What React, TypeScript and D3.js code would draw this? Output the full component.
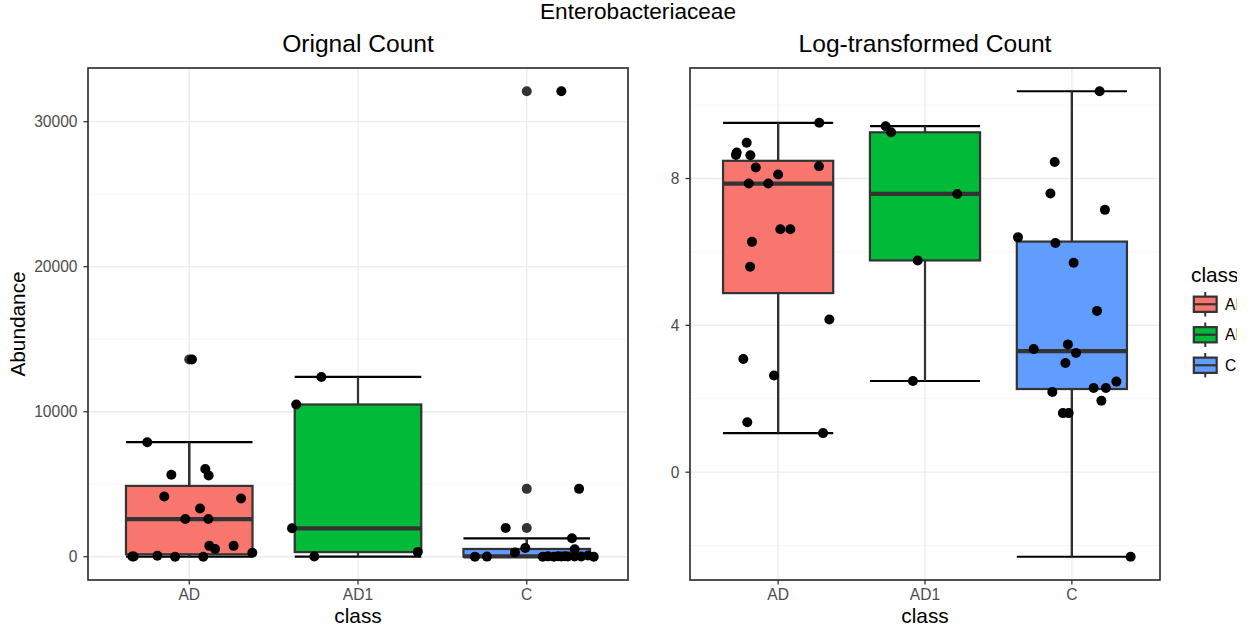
import * as d3 from 'd3'

// class order and fill colours (ggplot defaults)
const categories = ['AD', 'AD1', 'C']
const fills = ['#F8766D', '#00BA38', '#619CFF']

// raw abundance per class
const adValues = [13600, 7900, 6050, 5655, 5607, 4159, 4021, 3331, 2600, 2600, 750, 750, 531, 270, 64, 21.8, 13.9, 3.9, 2.9]
const ad1Values = [12400, 10500, 1960, 12, 320]
const cValues = [32100, 4680, 1980, 1270, 600, 515, 300, 81, 28.6, 32.5, 25.7, 19.6, 8.9, 9.9, 9.9, 11.8, 7.0, 5.0, 5.0, 0.1]

// jitter offsets (fraction of the category step) for each panel
const adJitterOrig = [0.016, -0.249, 0.095, -0.106, 0.115, -0.148, 0.307, 0.064, -0.023, 0.113, 0.119, 0.263, 0.153, 0.374, -0.189, -0.337, -0.329, -0.084, 0.083]
const adJitterLog = [0.28, -0.214, -0.282, -0.287, -0.189, 0.278, -0.152, 0.0, -0.2, -0.067, 0.015, 0.083, -0.178, -0.191, 0.349, -0.237, -0.028, -0.21, 0.306]
const ad1JitterOrig = [-0.217, -0.366, -0.391, -0.259, 0.354]
const ad1JitterLog = [-0.268, -0.231, 0.22, -0.082, -0.05]
const cJitterOrig = [0.205, 0.31, -0.125, 0.268, -0.009, 0.284, -0.07, 0.363, 0.185, 0.227, 0.126, 0.323, -0.236, 0.205, 0.244, 0.284, 0.161, 0.095, -0.307, 0.397]
const cJitterLog = [0.189, -0.117, -0.146, 0.225, -0.367, -0.112, 0.012, 0.171, -0.26, -0.027, 0.028, -0.044, -0.133, 0.148, 0.232, 0.303, 0.201, -0.061, -0.022, 0.4]

const origTicks = [0, 10000, 20000, 30000]
const origMinor = [5000, 15000, 25000]
const logTicks = [0, 4, 8]
const logMinor = [-2, 2, 6, 10]

const FONT = '"Liberation Sans", Arial, Helvetica, sans-serif'
const TOP = 68
const BOTTOM = 580

type Group = { cls: string, fill: string, values: number[], jitter: number[] }

function boxStats(values: number[]) {
  const s = values.slice().sort((a, b) => a - b)
  const q1 = d3.quantile(s, 0.25) as number
  const med = d3.quantile(s, 0.5) as number
  const q3 = d3.quantile(s, 0.75) as number
  const iqr = q3 - q1
  const inside = s.filter(v => v >= q1 - 1.5 * iqr && v <= q3 + 1.5 * iqr)
  const outliers = s.filter(v => v < q1 - 1.5 * iqr || v > q3 + 1.5 * iqr)
  return { q1, med, q3, lo: inside[0], hi: inside[inside.length - 1], outliers }
}

const Panel = ({ x0, x1, groups, ticks, minor, title, yTitle, fmt }: {
  x0: number, x1: number, groups: Group[], ticks: number[], minor: number[], title: string, yTitle?: string, fmt: (d: number) => string
}) => {
  const x = d3.scalePoint<string>().domain(categories).range([x0, x1]).padding(0.6)
  const step = x.step()
  const all = groups.flatMap(g => g.values)
  const mn = d3.min(all) as number
  const mx = d3.max(all) as number
  const pad = (mx - mn) * 0.05
  const y = d3.scaleLinear().domain([mn - pad, mx + pad]).range([BOTTOM, TOP])
  const bw = step * 0.75
  const cx = (x0 + x1) / 2

  return (
    <g>
      <rect x={x0} y={TOP} width={x1 - x0} height={BOTTOM - TOP} fill="#fff" />
      {minor.map(t => <line key={'m' + t} x1={x0} x2={x1} y1={y(t)} y2={y(t)} stroke="#F2F2F2" strokeWidth={0.8} />)}
      {ticks.map(t => <line key={'g' + t} x1={x0} x2={x1} y1={y(t)} y2={y(t)} stroke="#EBEBEB" strokeWidth={1.3} />)}
      {categories.map(c => <line key={'v' + c} x1={x(c)} x2={x(c)} y1={TOP} y2={BOTTOM} stroke="#EBEBEB" strokeWidth={1.3} />)}

      {groups.map(g => {
        const st = boxStats(g.values)
        const c = x(g.cls) as number
        return (
          <g key={g.cls}>
            {/* errorbar */}
            <line x1={c} x2={c} y1={y(st.lo)} y2={y(st.hi)} stroke="#000" strokeWidth={2.2} />
            <line x1={c - bw / 2} x2={c + bw / 2} y1={y(st.hi)} y2={y(st.hi)} stroke="#000" strokeWidth={2.2} />
            <line x1={c - bw / 2} x2={c + bw / 2} y1={y(st.lo)} y2={y(st.lo)} stroke="#000" strokeWidth={2.2} />
            {/* boxplot */}
            <line x1={c} x2={c} y1={y(st.lo)} y2={y(st.hi)} stroke="#333" strokeWidth={2} />
            <rect x={c - bw / 2} y={y(st.q3)} width={bw} height={Math.max(0.5, y(st.q1) - y(st.q3))} fill={g.fill} stroke="#333" strokeWidth={2.2} />
            <line x1={c - bw / 2} x2={c + bw / 2} y1={y(st.med)} y2={y(st.med)} stroke="#333" strokeWidth={4.2} />
            {st.outliers.map((v, i) => <circle key={'o' + i} cx={c} cy={y(v)} r={5} fill="#333" />)}
          </g>
        )
      })}
      {groups.map(g => g.values.map((v, i) => (
        <circle key={g.cls + i} cx={(x(g.cls) as number) + g.jitter[i] * step} cy={y(v)} r={5} fill="#000" />
      )))}

      <rect x={x0} y={TOP} width={x1 - x0} height={BOTTOM - TOP} fill="none" stroke="#333" strokeWidth={1.7} />

      {/* y axis */}
      {ticks.map(t => (
        <g key={'yt' + t}>
          <line x1={x0 - 4.5} x2={x0} y1={y(t)} y2={y(t)} stroke="#333" strokeWidth={1.3} />
          <text x={x0 - 10.5} y={y(t)} dy="0.35em" textAnchor="end" fontSize={15.6} fill="#4D4D4D" fontFamily={FONT}>{fmt(t)}</text>
        </g>
      ))}
      {/* x axis */}
      {categories.map(c => (
        <g key={'xt' + c}>
          <line x1={x(c)} x2={x(c)} y1={BOTTOM} y2={BOTTOM + 4.5} stroke="#333" strokeWidth={1.3} />
          <text x={x(c)} y={BOTTOM + 20} textAnchor="middle" fontSize={15.6} fill="#4D4D4D" fontFamily={FONT}>{c}</text>
        </g>
      ))}
      <text x={cx} y={623} textAnchor="middle" fontSize={20.8} fill="#000" fontFamily={FONT}>class</text>
      {yTitle && (
        <text transform={`translate(25,${(TOP + BOTTOM) / 2}) rotate(-90)`} textAnchor="middle" fontSize={20.8} fill="#000" fontFamily={FONT}>{yTitle}</text>
      )}
      <text x={cx} y={52} textAnchor="middle" fontSize={24.6} fill="#000" fontFamily={FONT}>{title}</text>
    </g>
  )
}

const Legend = () => {
  const key = 30.5
  const kx = 1190
  const ky = 289
  return (
    <g clipPath="url(#legclip)">
      <text x={1191} y={282} fontSize={20.8} fill="#000" fontFamily={FONT}>class</text>
      {categories.map((c, i) => {
        const top = ky + i * key
        const mid = kx + key / 2
        return (
          <g key={c}>
            <line x1={mid} x2={mid} y1={top + key * 0.1} y2={top + key * 0.9} stroke="#333" strokeWidth={2} />
            <rect x={kx + key * 0.125} y={top + key * 0.25} width={key * 0.75} height={key * 0.5} fill={fills[i]} stroke="#333" strokeWidth={2.2} />
            <line x1={kx + key * 0.125} x2={kx + key * 0.875} y1={top + key / 2} y2={top + key / 2} stroke="#333" strokeWidth={2.2} />
            <text x={kx + key + 4.5} y={top + key / 2} dy="0.35em" fontSize={15.6} fill="#000" fontFamily={FONT}>{c}</text>
          </g>
        )
      })}
    </g>
  )
}

export default function App() {
  const origGroups: Group[] = [
    { cls: 'AD', fill: fills[0], values: adValues, jitter: adJitterOrig },
    { cls: 'AD1', fill: fills[1], values: ad1Values, jitter: ad1JitterOrig },
    { cls: 'C', fill: fills[2], values: cValues, jitter: cJitterOrig },
  ]
  const logGroups: Group[] = [
    { cls: 'AD', fill: fills[0], values: adValues.map(Math.log), jitter: adJitterLog },
    { cls: 'AD1', fill: fills[1], values: ad1Values.map(Math.log), jitter: ad1JitterLog },
    { cls: 'C', fill: fills[2], values: cValues.map(Math.log), jitter: cJitterLog },
  ]
  return (
    <svg width={1258} height={631} style={{ position: 'absolute', left: 0, top: 0, background: '#fff' }}>
      <defs>
        <clipPath id="legclip"><rect x={0} y={0} width={1237} height={631} /></clipPath>
      </defs>
      <rect width={1258} height={631} fill="#fff" />
      <text x={638} y={19} textAnchor="middle" fontSize={22.6} fill="#000" fontFamily={FONT}>Enterobacteriaceae</text>
      <Panel x0={88} x1={628} groups={origGroups} ticks={origTicks} minor={origMinor} title="Orignal Count" yTitle="Abundance" fmt={d => String(d)} />
      <Panel x0={690} x1={1160} groups={logGroups} ticks={logTicks} minor={logMinor} title="Log-transformed Count" fmt={d => String(d)} />
      <Legend />
    </svg>
  )
}
